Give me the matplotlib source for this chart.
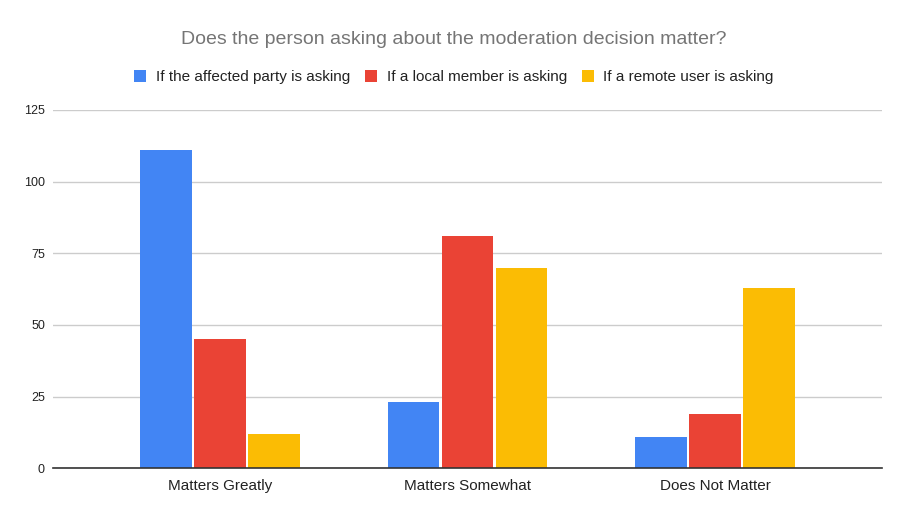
import numpy as np
import matplotlib
matplotlib.use("Agg")
import matplotlib.pyplot as plt
from matplotlib.patches import Patch

plt.rcParams['font.family'] = ['Liberation Sans', 'DejaVu Sans']

# Dane
categories = ['Matters Greatly', 'Matters Somewhat', 'Does Not Matter']
series_names = ['If the affected party is asking',
                'If a local member is asking',
                'If a remote user is asking']
affected = [111, 23, 11]
local = [45, 81, 19]
remote = [12, 70, 63]
colors = ['#4285F4', '#EA4335', '#FBBC04']
y_ticks = [0, 25, 50, 75, 100, 125]

fig = plt.figure(figsize=(9.08, 5.22), dpi=100)
ax = fig.add_axes([0.0587, 0.1029, 0.9123, 0.6864])

x = np.arange(len(categories))
pitch = 0.218
width = 0.209
for i, (vals, name, c) in enumerate(zip([affected, local, remote], series_names, colors)):
    ax.bar(x + (i - 1) * pitch, vals, width, color=c, label=name, zorder=3)

ax.set_xlim(-0.673, 2.673)
ax.set_ylim(0, 125)
ax.set_yticks(y_ticks)
ax.set_xticks(x)
ax.set_xticklabels(categories, fontsize=11, color='#222222')
ax.tick_params(axis='y', labelsize=9, length=0, pad=6)
ax.tick_params(axis='x', length=0, pad=8)
for lab in ax.get_yticklabels():
    lab.set_color('#222222')

ax.grid(axis='y', color='#CCCCCC', linewidth=1, zorder=0)
for s in ['top', 'right', 'left']:
    ax.spines[s].set_visible(False)
ax.spines['bottom'].set_color('#333333')
ax.spines['bottom'].set_linewidth(1.2)
ax.spines['bottom'].set_zorder(4)

fig.text(0.5, 1 - 40 / 522, 'Does the person asking about the moderation decision matter?',
         ha='center', va='center', fontsize=14, color='#757575')

handles = [Patch(facecolor=c, edgecolor='none') for c in colors]
fig.legend(handles, series_names, loc='center', bbox_to_anchor=(0.5, 1 - 77 / 522),
           ncol=3, frameon=False, fontsize=11, handlelength=0.8, handleheight=0.8,
           handletextpad=0.6, columnspacing=1.0, labelcolor='#222222')

fig.savefig('out.png', dpi=100)
